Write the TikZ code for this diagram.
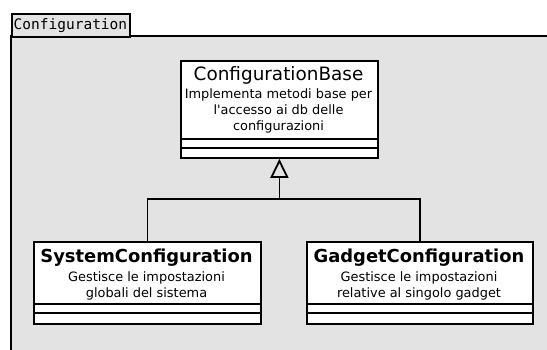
\documentclass[tikz,border=0pt]{standalone}
\usepackage{fontspec}
\newfontfamily\umlsans{DejaVu Sans}
\newfontfamily\umlmono{DejaVu Sans Mono}
\usetikzlibrary{arrows.meta}
\definecolor{pkgfill}{HTML}{E3E3E3}
\tikzset{
  umlline/.style={draw=black, line width=1.8pt},
  classbox/.style={umlline, fill=white, anchor=north west, inner sep=0pt},
  cname/.style={font=\umlsans\fontsize{18.4}{20}\selectfont, anchor=center, inner sep=0pt},
  cbold/.style={font=\umlsans\bfseries\fontsize{17.9}{20}\selectfont, anchor=center, inner sep=0pt},
  cdesc/.style={font=\umlsans\fontsize{12.9}{16}\selectfont, align=center, anchor=north, inner sep=0pt},
  generalization/.style={umlline, -{Triangle[open, width=18pt, length=19pt, line width=1.8pt]}},
}
\begin{document}
\begin{tikzpicture}[x=1pt, y=-1pt]
\useasboundingbox (0,0) rectangle (547,349);
% package body and tab
\begin{scope}
  \clip (0,0) rectangle (547,349);
  \fill[pkgfill] (11,36) rectangle (560,360);
  \draw[umlline] (11,370) -- (11,36) -- (560,36);
\end{scope}
\node[umlline, fill=pkgfill, minimum width=118pt, minimum height=23pt, anchor=north west, inner sep=0pt] (tab) at (11,13) {};
\node[font=\umlmono\fontsize{14.5}{16}\selectfont, anchor=base west, inner sep=0pt] (tablabel) at (13.5,29.5) {Configuration};

% ConfigurationBase
\node[classbox, minimum width=197pt, minimum height=97pt] (base) at (180,60) {};
\draw[umlline] (180,139) -- (377,139) (180,148) -- (377,148);
\node[cname] (basename) at (278.5,75.5) {ConfigurationBase};
\node[cdesc] (basedesc) at (278.5,88.5) {Implementa metodi base per\\l'accesso ai db delle\\configurazioni};

% SystemConfiguration
\node[classbox, minimum width=227pt, minimum height=82pt] (sys) at (33,241) {};
\draw[umlline] (33,304) -- (260,304) (33,313) -- (260,313);
\node[cbold] (sysname) at (146.5,257.5) {SystemConfiguration};
\node[cdesc] (sysdesc) at (146.5,271) {Gestisce le impostazioni\\globali del sistema};

% GadgetConfiguration
\node[classbox, minimum width=226pt, minimum height=82pt] (gad) at (306,241) {};
\draw[umlline] (306,304) -- (532,304) (306,313) -- (532,313);
\node[cbold] (gadname) at (419,257.5) {GadgetConfiguration};
\node[cdesc] (gaddesc) at (419,271) {Gestisce le impostazioni\\relative al singolo gadget};

% generalization connectors
\coordinate (join) at (base.south |- 0,199);
\draw[umlline] (sys.north) |- (join) -| (gad.north);
\draw[generalization] (join) -- (base.south);
\end{tikzpicture}
\end{document}
